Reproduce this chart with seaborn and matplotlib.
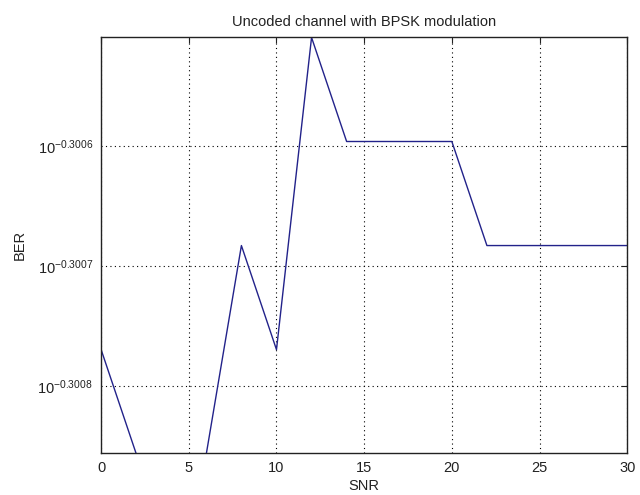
import matplotlib
matplotlib.use("Agg")
import matplotlib.pyplot as plt
import numpy as np
import pandas as pd
import seaborn as sns
from matplotlib.ticker import FixedLocator, NullLocator

# values
snr = [0, 2, 4, 6, 8, 10, 12, 14, 16, 18, 20, 22, 24, 26, 28, 30]
ber = [0.5003, 0.5002, 0.5001, 0.5002, 0.5004, 0.5003, 0.5006, 0.5005,
       0.5005, 0.5005, 0.5005, 0.5004, 0.5004, 0.5004, 0.5004, 0.5004]
ytick_exp = [-0.3008, -0.3007, -0.3006]
ytick_labels = [r"$10^{-0.3008}$", r"$10^{-0.3007}$", r"$10^{-0.3006}$"]
xticks = [0, 5, 10, 15, 20, 25, 30]

sns.set_style("white")
plt.rcParams["font.family"] = ["Liberation Sans", "DejaVu Sans"]
plt.rcParams["mathtext.fontset"] = "custom"
plt.rcParams["mathtext.rm"] = "Liberation Sans"
plt.rcParams["mathtext.it"] = "Liberation Sans"
plt.rcParams["mathtext.default"] = "regular"

df = pd.DataFrame({"SNR": snr, "BER": ber})

fig = plt.figure(figsize=(6.4, 4.95), dpi=100)
fig.patch.set_facecolor("white")
ax = fig.add_axes([0.158, 0.0855, 0.822, 0.8388])

sns.lineplot(data=df, x="SNR", y="BER", ax=ax, color="#22228a",
             linewidth=1.0, estimator=None, sort=False)

ax.set_yscale("log")
ax.set_xlim(0, 30)
ax.set_ylim(0.500201, 0.5006)

ax.xaxis.set_major_locator(FixedLocator(xticks))
ax.yaxis.set_major_locator(FixedLocator([10 ** e for e in ytick_exp]))
ax.yaxis.set_minor_locator(NullLocator())
ax.set_xticklabels([str(t) for t in xticks])
ax.set_yticklabels(ytick_labels)

ax.grid(True, which="major", linestyle=(0, (1, 3)), color="black", linewidth=0.8)
ax.tick_params(axis="both", which="major", direction="in", length=4, width=0.8,
               top=True, right=True, labelsize=10.5, colors="#222222", pad=6)
for spine in ax.spines.values():
    spine.set_visible(True)
    spine.set_color("#222222")
    spine.set_linewidth(1.0)

ax.set_title("Uncoded channel with BPSK modulation", fontsize=10.5, color="#222222", pad=8)
ax.set_xlabel("SNR", fontsize=10.5, color="#222222", labelpad=3)
ax.set_ylabel("BER", fontsize=10.5, color="#222222", labelpad=8)

fig.savefig("out.png", dpi=100)
